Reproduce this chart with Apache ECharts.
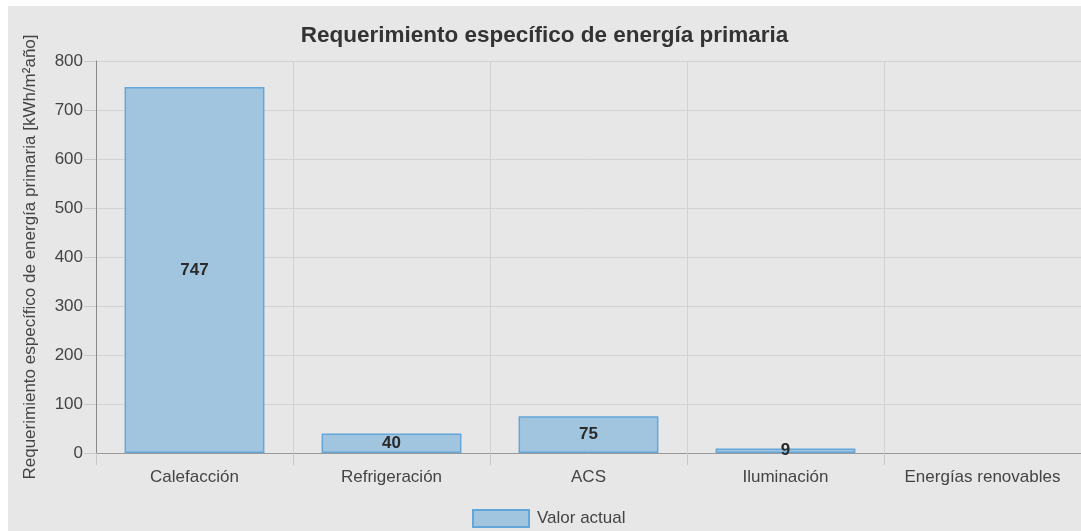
<!DOCTYPE html>
<html>
<head>
<meta charset="utf-8">
<script src="https://cdn.jsdelivr.net/npm/echarts@6/dist/echarts.min.js"></script>
<style>
html,body{margin:0;padding:0;background:#fff;width:1081px;height:531px;overflow:hidden;}
#wrap{position:absolute;left:8px;top:6px;width:1073px;height:525px;background:#e7e7e7;}
#chart{width:1073px;height:525px;}
</style>
</head>
<body>
<div id="wrap"><div id="chart"></div></div>
<script>
const titleText = 'Requerimiento específico de energía primaria';
const yAxisName = 'Requerimiento específico de energía primaria [kWh/m²año]';
const categories = ['Calefacción', 'Refrigeración', 'ACS', 'Iluminación', 'Energías renovables'];
const seriesName = 'Valor actual';
const values = [747, 40, 75, 9, null];

const chart = echarts.init(document.getElementById('chart'));
const font = 'Liberation Sans, Arial, sans-serif';
chart.setOption({
  backgroundColor: 'transparent',
  animation: false,
  textStyle: { fontFamily: font },
  title: {
    text: titleText,
    left: 'center',
    top: 18,
    padding: 0,
    textStyle: { fontSize: 22.5, fontWeight: 'bold', color: '#333', fontFamily: font }
  },
  legend: {
    data: [seriesName],
    icon: 'rect',
    left: 464,
    bottom: 3,
    padding: 0,
    itemWidth: 56,
    itemHeight: 17,
    itemGap: 10,
    textStyle: { fontSize: 17, color: '#444', fontFamily: font, padding: [0, 0, 0, 3] }
  },
  grid: { left: 88, right: 0, top: 55, bottom: 78, containLabel: false },
  xAxis: {
    type: 'category',
    data: categories,
    axisLine: { lineStyle: { color: '#999', width: 1 } },
    axisTick: { show: true, interval: 0, length: 12, lineStyle: { color: '#c8c8c8' } },
    axisLabel: { interval: 0, fontSize: 17, color: '#444', margin: 16, fontFamily: font },
    splitLine: { show: true, interval: 0, lineStyle: { color: '#d2d2d2' } }
  },
  yAxis: {
    type: 'value',
    min: 0, max: 800, interval: 100,
    name: yAxisName,
    nameLocation: 'middle',
    nameGap: 57,
    nameTextStyle: { fontSize: 17, color: '#444', fontFamily: font },
    axisLine: { show: true, lineStyle: { color: '#888' } },
    axisTick: { show: true, length: 12, lineStyle: { color: '#c8c8c8' } },
    axisLabel: { fontSize: 17, color: '#444', margin: 13, fontFamily: font },
    splitLine: { show: true, lineStyle: { color: '#d2d2d2' } }
  },
  series: [{
    name: seriesName,
    type: 'bar',
    data: values,
    barWidth: '71%',
    itemStyle: { color: '#a2c5df', borderColor: '#64a6d8', borderWidth: 1.5 },
    label: {
      show: true,
      position: 'inside',
      fontSize: 17,
      fontWeight: 'bold',
      color: '#2a2a2a',
      fontFamily: font
    }
  }]
});
</script>
</body>
</html>
